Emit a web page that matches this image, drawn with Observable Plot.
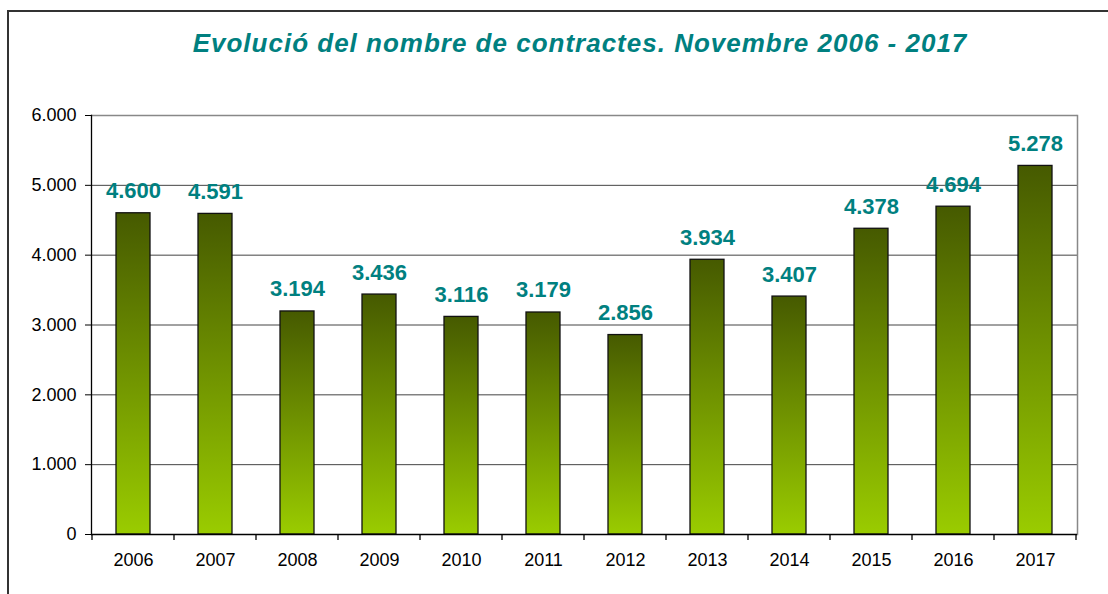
<!DOCTYPE html>
<html>
<head>
<meta charset="utf-8">
<script src="https://cdn.jsdelivr.net/npm/d3@7"></script>
<script src="https://cdn.jsdelivr.net/npm/@observablehq/plot@0.6"></script>
<style>
  html, body { margin: 0; padding: 0; background: #fff; }
  #wrap { position: relative; width: 1108px; height: 594px; overflow: hidden; font-family: "Liberation Sans", Arial, sans-serif; }
  #border { position: absolute; left: 7px; top: 10px; width: 1200px; height: 700px; border: 2px solid #333; box-sizing: border-box; }
  #title { position: absolute; left: 0; top: 28px; width: 1160px; text-align: center; font-size: 26px; line-height: 30px; letter-spacing: 1px; font-weight: bold; font-style: italic; color: #008080; }
  #chart { position: absolute; left: 0; top: 0; }
</style>
</head>
<body>
<div id="wrap">
  <div id="border"></div>
  <div id="title">Evolució del nombre de contractes. Novembre 2006 - 2017</div>
  <div id="chart"></div>
</div>
<script>
const years = ["2006","2007","2008","2009","2010","2011","2012","2013","2014","2015","2016","2017"];
const contracts = [4600, 4591, 3194, 3436, 3116, 3179, 2856, 3934, 3407, 4378, 4694, 5278];
const yTicks = [0, 1000, 2000, 3000, 4000, 5000, 6000];
const gridTicks = [1000, 2000, 3000, 4000, 5000];

const data = years.map((y, i) => ({year: y, value: contracts[i]}));
const loc = d3.formatLocale({decimal: ",", thousands: ".", grouping: [3], currency: ["", ""]});
const fmt = loc.format(",d");

const chart = Plot.plot({
  width: 1108,
  height: 594,
  marginLeft: 91,
  marginRight: 31,
  marginTop: 115,
  marginBottom: 60,
  style: {fontFamily: "'Liberation Sans', Arial, sans-serif", background: "transparent", overflow: "visible"},
  x: {domain: years, padding: 0},
  y: {domain: [0, 6000]},
  marks: [
    Plot.ruleY(gridTicks, {stroke: "#444", strokeWidth: 1}),
    Plot.ruleY([6000], {stroke: "#888", strokeWidth: 1.5}),
    Plot.frame({anchor: "right", stroke: "#888", strokeWidth: 1.5}),
    Plot.barY(data, {x: "year", y: "value", fill: "url(#barGrad)", stroke: "#111", strokeWidth: 1.3, insetLeft: 24, insetRight: 24}),
    Plot.ruleY([0], {stroke: "#000", strokeWidth: 1.3}),
    Plot.frame({anchor: "left", stroke: "#000", strokeWidth: 1.3}),
    Plot.axisY({ticks: yTicks, tickFormat: fmt, tickSize: 6, tickPadding: 9, fontSize: 18, color: "#000", label: null}),
    Plot.axisX({tickSize: 0, tickPadding: 19, fontSize: 18, color: "#000", label: null}),
    Plot.text(data, {x: "year", y: "value", text: d => fmt(d.value), dy: -15, lineAnchor: "bottom", fill: "#008080", fontWeight: "bold", fontSize: 22})
  ]
});

// gradient definition for bars
const svg = d3.select(chart);
const defs = svg.insert("defs", ":first-child");
const g = defs.append("linearGradient").attr("id", "barGrad").attr("x1", 0).attr("y1", 0).attr("x2", 0).attr("y2", 1);
g.append("stop").attr("offset", "0%").attr("stop-color", "#465a00");
g.append("stop").attr("offset", "100%").attr("stop-color", "#9acc00");

// category boundary ticks on the x axis, from the band scale
const sx = chart.scale("x");
const sy = chart.scale("y");
const step = sx.step;
const x0 = sx.apply(years[0]);
const bounds = d3.range(years.length + 1).map(i => x0 + i * step);
const yBase = sy.apply(0);
svg.append("g").selectAll("line").data(bounds).join("line")
  .attr("x1", d => d).attr("x2", d => d)
  .attr("y1", yBase).attr("y2", yBase + 6)
  .attr("stroke", "#000").attr("stroke-width", 1.3);

document.getElementById("chart").appendChild(chart);
</script>
</body>
</html>
